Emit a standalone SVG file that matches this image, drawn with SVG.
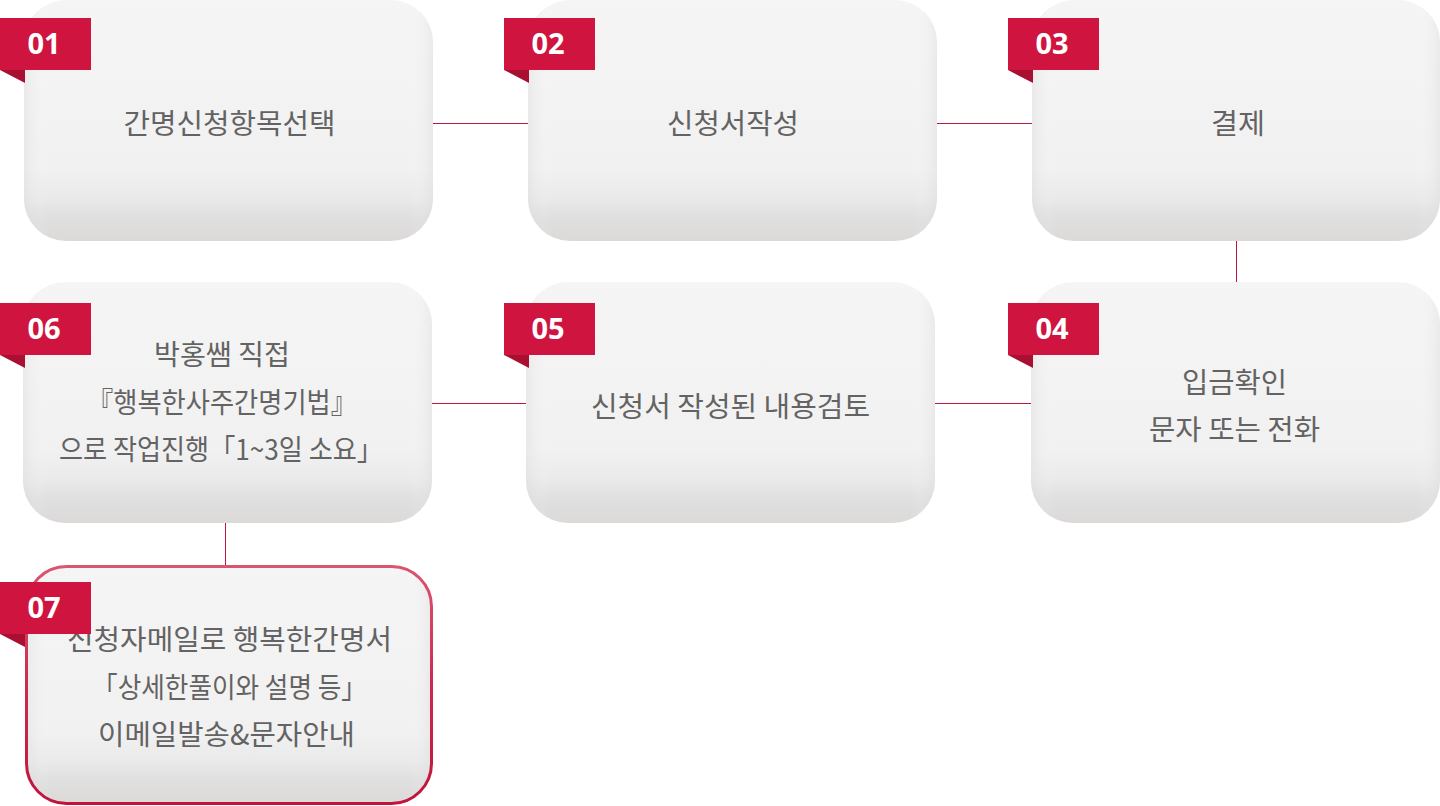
<svg xmlns="http://www.w3.org/2000/svg" width="1440" height="806" viewBox="0 0 1440 806">
<defs>
<linearGradient id="gv" x1="0" y1="0" x2="0" y2="1">
<stop offset="0" stop-color="#f6f5f5"/>
<stop offset="0.7" stop-color="#f2f1f1"/>
<stop offset="0.82" stop-color="#ebeaea"/>
<stop offset="0.9" stop-color="#e0dfdf"/>
<stop offset="1" stop-color="#dbdad9"/>
</linearGradient>
<linearGradient id="gh" x1="0" y1="0" x2="1" y2="0">
<stop offset="0" stop-color="#d8d7d7" stop-opacity="0.35"/>
<stop offset="0.06" stop-color="#ffffff" stop-opacity="0"/>
<stop offset="0.94" stop-color="#ffffff" stop-opacity="0"/>
<stop offset="1" stop-color="#d8d7d7" stop-opacity="0.35"/>
</linearGradient>
<linearGradient id="gb" x1="0" y1="0" x2="0" y2="1">
<stop offset="0" stop-color="#da5570"/>
<stop offset="0.5" stop-color="#cc2a50"/>
<stop offset="1" stop-color="#c0143c"/>
</linearGradient>
<g id="badge">
<polygon points="0,52 25,52 25,65" fill="#a80f30"/>
<rect x="0" y="0" width="91" height="52" fill="#cf1440"/>
</g>
</defs>
<style>
.box{fill:url(#gv)}
.ov{fill:url(#gh)}
.t{font-family:"Noto Sans CJK KR","Noto Sans",sans-serif;font-size:28px;fill:#636363;text-anchor:middle}
.n{font-family:"Noto Sans","Noto Sans CJK KR",sans-serif;font-size:29px;font-weight:700;fill:#ffffff;text-anchor:middle}
.c{stroke:#b8193f;stroke-width:1;fill:none}
</style>
<rect width="1440" height="806" fill="#ffffff"/>
<g id="connectors">
<line class="c" x1="433" y1="123.5" x2="528" y2="123.5"/>
<line class="c" x1="937" y1="123.5" x2="1032" y2="123.5"/>
<line class="c" x1="1236.5" y1="241" x2="1236.5" y2="282"/>
<line class="c" x1="432" y1="403.5" x2="526" y2="403.5"/>
<line class="c" x1="935" y1="403.5" x2="1031" y2="403.5"/>
<line class="c" x1="225.5" y1="523" x2="225.5" y2="565"/>
</g>
<g id="node01">
<rect class="box" x="24" y="0" width="409" height="241" rx="42"/>
<rect class="ov" x="24" y="0" width="409" height="241" rx="42"/>
<text class="t" x="229.5" y="134" textLength="212" lengthAdjust="spacingAndGlyphs">간명신청항목선택</text>
<use href="#badge" x="0" y="18"/>
<text class="n" x="44" y="54">01</text>
</g>
<g id="node02">
<rect class="box" x="528" y="0" width="409" height="241" rx="42"/>
<rect class="ov" x="528" y="0" width="409" height="241" rx="42"/>
<text class="t" x="733" y="134" textLength="132" lengthAdjust="spacingAndGlyphs">신청서작성</text>
<use href="#badge" x="504" y="18"/>
<text class="n" x="548" y="54">02</text>
</g>
<g id="node03">
<rect class="box" x="1032" y="0" width="408" height="241" rx="42"/>
<rect class="ov" x="1032" y="0" width="408" height="241" rx="42"/>
<text class="t" x="1238" y="134" textLength="54" lengthAdjust="spacingAndGlyphs">결제</text>
<use href="#badge" x="1008" y="18"/>
<text class="n" x="1052" y="54">03</text>
</g>
<g id="node04">
<rect class="box" x="1031" y="282" width="409" height="241" rx="42"/>
<rect class="ov" x="1031" y="282" width="409" height="241" rx="42"/>
<text class="t" x="1234.5" y="393" textLength="105" lengthAdjust="spacingAndGlyphs">입금확인</text>
<text class="t" x="1234.5" y="440" textLength="171" lengthAdjust="spacingAndGlyphs">문자 또는 전화</text>
<use href="#badge" x="1008" y="303"/>
<text class="n" x="1052" y="339">04</text>
</g>
<g id="node05">
<rect class="box" x="526" y="282" width="409" height="241" rx="42"/>
<rect class="ov" x="526" y="282" width="409" height="241" rx="42"/>
<text class="t" x="730.5" y="417" textLength="279" lengthAdjust="spacingAndGlyphs">신청서 작성된 내용검토</text>
<use href="#badge" x="504" y="303"/>
<text class="n" x="548" y="339">05</text>
</g>
<g id="node06">
<rect class="box" x="23" y="282" width="409" height="241" rx="42"/>
<rect class="ov" x="23" y="282" width="409" height="241" rx="42"/>
<text class="t" x="222" y="365" textLength="136" lengthAdjust="spacingAndGlyphs">박홍쌤 직접</text>
<text class="t" x="222" y="413" textLength="270" lengthAdjust="spacingAndGlyphs">『행복한사주간명기법』</text>
<text class="t" x="221" y="460" textLength="324" lengthAdjust="spacingAndGlyphs">으로 작업진행「1~3일 소요」</text>
<use href="#badge" x="0" y="303"/>
<text class="n" x="44" y="339">06</text>
</g>
<g id="node07">
<rect class="box" x="26.5" y="566.5" width="405" height="237" rx="40"/>
<rect class="ov" x="26.5" y="566.5" width="405" height="237" rx="40"/>
<rect x="26.5" y="566.5" width="405" height="237" rx="40" fill="none" stroke="url(#gb)" stroke-width="3"/>
<text class="t" x="229.5" y="650" textLength="325" lengthAdjust="spacingAndGlyphs">신청자메일로 행복한간명서</text>
<text class="t" x="229.5" y="698" textLength="275" lengthAdjust="spacingAndGlyphs">「상세한풀이와 설명 등」</text>
<text class="t" x="226.5" y="745" textLength="257" lengthAdjust="spacingAndGlyphs">이메일발송&amp;문자안내</text>
<use href="#badge" x="0" y="582"/>
<text class="n" x="44" y="618">07</text>
</g>
</svg>
